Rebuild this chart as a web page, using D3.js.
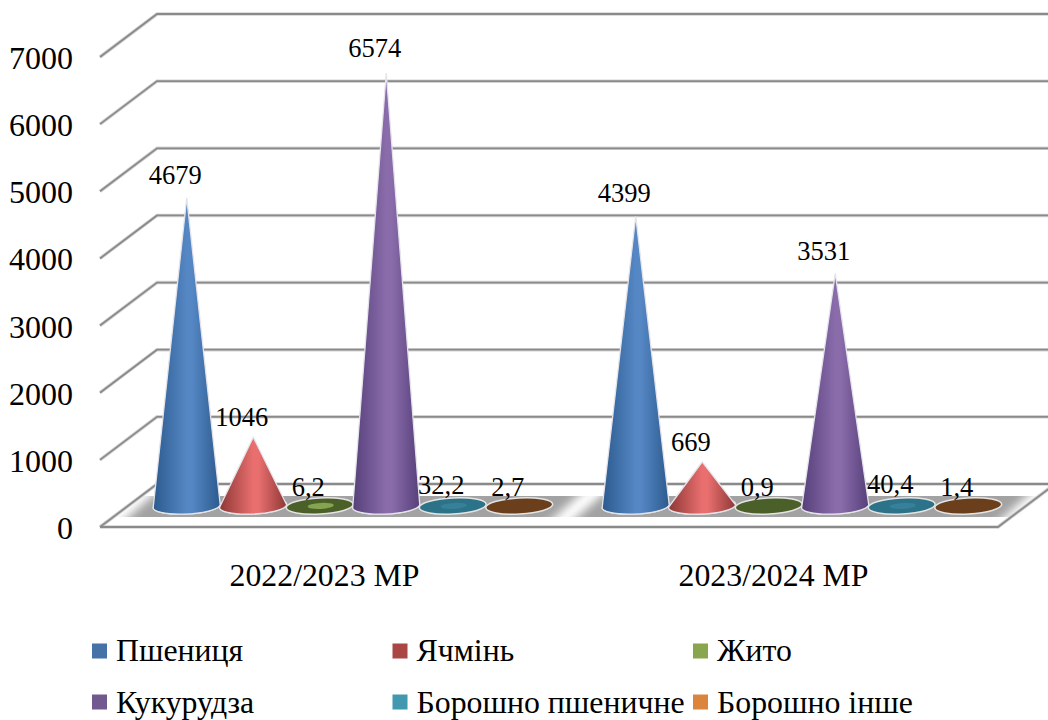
<!DOCTYPE html>
<html>
<head>
<meta charset="utf-8">
<script src="https://cdn.jsdelivr.net/npm/d3@7"></script>
<style>
body { margin: 0; background: #fff; }
text { font-family: "Liberation Serif", serif; fill: #000; }
</style>
</head>
<body>
<svg id="chart" width="1048" height="720"></svg>
<script>
// data
const years = ['2022/2023 МР', '2023/2024 МР'];
const crops = ['Пшениця', 'Ячмінь', 'Жито', 'Кукурудза', 'Борошно пшеничне', 'Борошно інше'];
const values2022 = [4679, 1046, 6.2, 6574, 32.2, 2.7];
const values2023 = [4399, 669, 0.9, 3531, 40.4, 1.4];
const ticks = [0, 1000, 2000, 3000, 4000, 5000, 6000, 7000];

// colours, per crop: dark edge, light middle, legend swatch
const edgeColors = ['#2c5a8e', '#8e3836', '#4b5f29', '#56407a', '#2c7289', '#6b3f1b'];
const midColors = ['#5587c4', '#e96f6f', '#84a450', '#8a6cab', '#36809a', '#70431e'];
const legendColors = ['#4572a7', '#aa4643', '#89a54e', '#71588f', '#4198af', '#db843d'];

const depthX = 57, depthY = 43;
const radiusX = 33.5, radiusY = 8;

const svg = d3.select('#chart');
const defs = svg.append('defs');

// scales
const gridY = d3.scaleLinear().domain([0, 7000]).range([527, 57]);
const coneY = d3.scaleLinear().domain([0, 7000]).range([506, 45]);
const labelY = d3.scaleLinear().domain([0, 7000]).range([496, 28.6]);
const groupX = d3.scaleBand().domain(years).range([100, 998]);
const cropX = d3.scalePoint().domain(crops).range([-166.25, 166.25]);

const coneCenter = (year, crop) =>
    groupX(year) + groupX.bandwidth() / 2 + depthX / 2 + cropX(crop);

crops.forEach((c, i) => {
    const g = defs.append('linearGradient').attr('id', 'cone' + i);
    g.append('stop').attr('offset', '0%').attr('stop-color', edgeColors[i]);
    g.append('stop').attr('offset', '50%').attr('stop-color', midColors[i]);
    g.append('stop').attr('offset', '58%').attr('stop-color', midColors[i]);
    g.append('stop').attr('offset', '100%').attr('stop-color', edgeColors[i]);
});
defs.append('filter').attr('id', 'soft')
    .attr('x', '-10%').attr('width', '120%').attr('y', '-20%').attr('height', '140%')
    .append('feGaussianBlur').attr('stdDeviation', '7 0.6');

// grid lines, with the side wall going back
const gridG = svg.append('g').attr('fill', 'none');
const gridPath = (v) => {
    const y = gridY(v);
    let d = `M100,${y}L${100 + depthX},${y - depthY}L${998 + depthX},${y - depthY}`;
    if (v === 0) d += `L998,${y}L100,${y}`;
    return d;
};
gridG.selectAll('.under').data(ticks).join('path')
    .attr('d', gridPath).attr('stroke', '#d4d4d4').attr('stroke-width', 3.5);
gridG.selectAll('.line').data(ticks).join('path')
    .attr('d', gridPath).attr('stroke', '#8a8a8a').attr('stroke-width', 1.8);

// y labels
svg.append('g').selectAll('text').data(ticks).join('text')
    .attr('x', 73).attr('y', d => gridY(d) + 12)
    .attr('text-anchor', 'end').attr('font-size', 32)
    .text(d => d);

// floor shadow under each group
svg.append('g').selectAll('path').data(years).join('path')
    .attr('d', (y) => {
        const c = groupX(y) + groupX.bandwidth() / 2 + depthX / 2;
        return `M${c - 201},496L${c + 225},496L${c + 202},517L${c - 225},517Z`;
    })
    .attr('fill', '#a2a2a2').attr('filter', 'url(#soft)');

// cones
const rows = [];
years.forEach((y, j) => {
    const vals = j === 0 ? values2022 : values2023;
    crops.forEach((c, i) => rows.push({ year: y, crop: c, i: i, value: vals[i] }));
});

const conePath = (d) => {
    const x = coneCenter(d.year, d.crop);
    const base = coneY(0), tip = coneY(d.value);
    return `M${x - radiusX},${base + 1}L${x},${tip}L${x + radiusX},${base - 1}` +
        `A${radiusX},${radiusY} -3 0 1 ${x - radiusX},${base + 1}Z`;
};

const coneG = svg.append('g');
const cones = coneG.selectAll('g').data(rows).join('g');
cones.append('ellipse')
    .attr('cx', d => coneCenter(d.year, d.crop)).attr('cy', coneY(0))
    .attr('rx', radiusX).attr('ry', radiusY)
    .attr('transform', d => `rotate(-3 ${coneCenter(d.year, d.crop)} ${coneY(0)})`)
    .attr('fill', d => edgeColors[d.i])
    .attr('stroke', '#e4e4e4').attr('stroke-width', 1.5);
cones.filter(d => d.value > 100).append('path')
    .attr('d', conePath)
    .attr('fill', d => `url(#cone${d.i})`)
    .attr('stroke', '#e4e4ea').attr('stroke-width', 1.3);
// the tiny cones only show as a lighter patch on the base
cones.filter(d => d.value > 5 && d.value < 100).append('ellipse')
    .attr('cx', d => coneCenter(d.year, d.crop) + 1).attr('cy', coneY(0))
    .attr('rx', 13).attr('ry', 3)
    .attr('transform', d => `rotate(-3 ${coneCenter(d.year, d.crop)} ${coneY(0)})`)
    .attr('fill', d => midColors[d.i]);

// value labels
svg.append('g').selectAll('text').data(rows).join('text')
    .attr('x', d => coneCenter(d.year, d.crop) - 11.5)
    .attr('y', d => labelY(d.value))
    .attr('text-anchor', 'middle').attr('font-size', 26.5)
    .text(d => String(d.value).replace('.', ','));

// category labels
svg.append('g').selectAll('text').data(years).join('text')
    .attr('x', d => groupX(d) + groupX.bandwidth() / 2).attr('y', 586)
    .attr('text-anchor', 'middle').attr('font-size', 31.8)
    .text(d => d);

// legend
const legendCol = d3.scalePoint().domain([0, 1, 2]).range([92, 693]);
const legendRow = d3.scalePoint().domain([0, 1]).range([651, 702]);
const legend = svg.append('g').selectAll('g').data(crops).join('g')
    .attr('transform', (d, i) => `translate(${legendCol(i % 3)},${legendRow(Math.floor(i / 3))})`);
legend.append('rect')
    .attr('x', 0).attr('y', -7.5).attr('width', 15).attr('height', 15)
    .attr('fill', (d, i) => legendColors[i]);
legend.append('text')
    .attr('x', 24).attr('y', (d, i) => i < 3 ? 10 : 11).attr('font-size', 31.8)
    .text(d => d);
</script>
</body>
</html>
